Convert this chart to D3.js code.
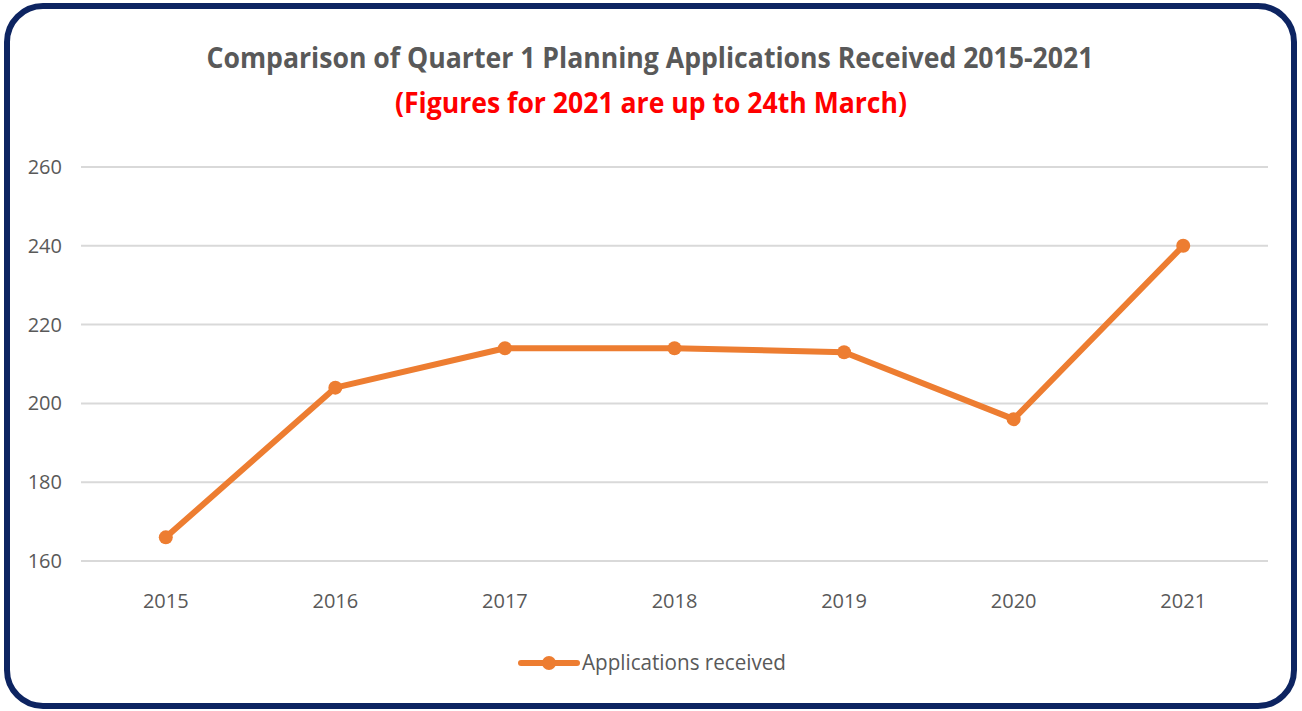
<!DOCTYPE html>
<html>
<head>
<meta charset="utf-8">
<script src="https://cdn.jsdelivr.net/npm/d3@7"></script>
<style>
  body { margin: 0; background: #fff; }
  svg text { font-family: "Liberation Sans Narrow", "Open Sans", "Noto Sans", sans-serif; }
</style>
</head>
<body>
<svg id="chart" width="1302" height="711"></svg>
<script>
const years = ["2015", "2016", "2017", "2018", "2019", "2020", "2021"];
const applications = [166, 204, 214, 214, 213, 196, 240];
const yTicks = [160, 180, 200, 220, 240, 260];
const titleLine1 = "Comparison of Quarter 1 Planning  Applications Received 2015-2021";
const titleLine2 = "(Figures for 2021 are up to 24th March)";
const seriesName = "Applications received";

const svg = d3.select("#chart");

// rounded frame
svg.append("rect")
    .attr("x", 7).attr("y", 6)
    .attr("width", 1287).attr("height", 700)
    .attr("rx", 36).attr("ry", 36)
    .attr("fill", "#fff")
    .attr("stroke", "#0d2461")
    .attr("stroke-width", 6);

var x = d3.scaleBand()
    .domain(years)
    .range([81, 1268]);

var y = d3.scaleLinear()
    .domain([160, 260])
    .range([561, 167]);

// gridlines
svg.append("g")
    .selectAll("line")
    .data(yTicks)
    .enter()
    .append("line")
    .attr("x1", 81).attr("x2", 1268)
    .attr("y1", d => y(d)).attr("y2", d => y(d))
    .attr("stroke", "#d9d9d9")
    .attr("stroke-width", 2);

// y labels
svg.append("g")
    .selectAll("text")
    .data(yTicks)
    .enter()
    .append("text")
    .attr("x", 62)
    .attr("y", d => y(d) + 7)
    .attr("text-anchor", "end")
    .attr("font-size", 20)
    .attr("fill", "#595959")
    .text(d => d);

// x labels
svg.append("g")
    .selectAll("text")
    .data(years)
    .enter()
    .append("text")
    .attr("x", d => x(d) + x.bandwidth() / 2)
    .attr("y", 608)
    .attr("text-anchor", "middle")
    .attr("font-size", 20)
    .attr("fill", "#595959")
    .text(d => d);

var lineMaker = d3.line()
    .x((d, i) => x(years[i]) + x.bandwidth() / 2)
    .y(d => y(d));

svg.append("path")
    .attr("fill", "none")
    .attr("stroke", "#ed7d31")
    .attr("stroke-width", 6)
    .attr("stroke-linejoin", "round")
    .attr("d", lineMaker(applications));

svg.append("g")
    .selectAll("circle")
    .data(applications)
    .enter()
    .append("circle")
    .attr("r", 7)
    .attr("fill", "#ed7d31")
    .attr("cx", (d, i) => x(years[i]) + x.bandwidth() / 2)
    .attr("cy", d => y(d));

// titles
svg.append("text")
    .attr("x", 650).attr("y", 68)
    .attr("text-anchor", "middle")
    .attr("font-size", 28)
    .attr("font-weight", "bold")
    .attr("fill", "#595959")
    .attr("textLength", 887)
    .attr("lengthAdjust", "spacingAndGlyphs")
    .text(titleLine1);

svg.append("text")
    .attr("x", 651).attr("y", 113)
    .attr("text-anchor", "middle")
    .attr("font-size", 28)
    .attr("font-weight", "bold")
    .attr("fill", "#ff0000")
    .attr("textLength", 512)
    .attr("lengthAdjust", "spacingAndGlyphs")
    .text(titleLine2);

// legend
var legend = svg.append("g");
legend.append("line")
    .attr("x1", 521).attr("x2", 577)
    .attr("y1", 663).attr("y2", 663)
    .attr("stroke", "#ed7d31")
    .attr("stroke-width", 6)
    .attr("stroke-linecap", "round");
legend.append("circle")
    .attr("cx", 549).attr("cy", 663).attr("r", 7)
    .attr("fill", "#ed7d31");
legend.append("text")
    .attr("x", 582).attr("y", 670)
    .attr("font-size", 21)
    .attr("fill", "#595959")
    .attr("textLength", 204)
    .attr("lengthAdjust", "spacingAndGlyphs")
    .text(seriesName);
</script>
</body>
</html>
